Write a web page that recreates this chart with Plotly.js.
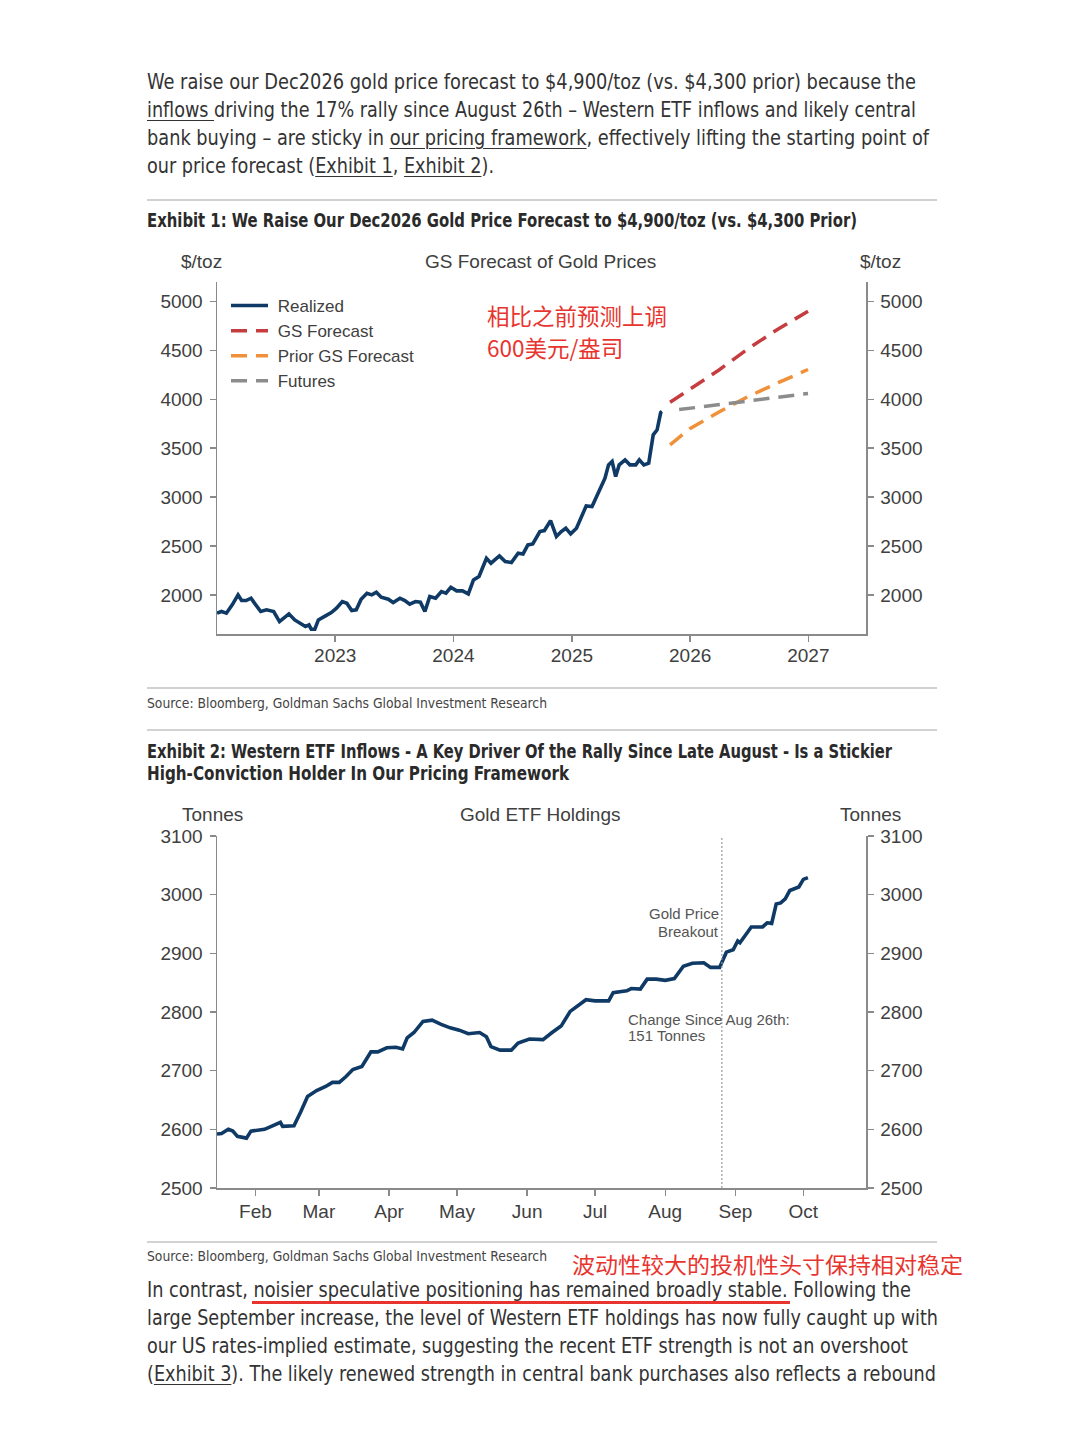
<!DOCTYPE html>
<html>
<head>
<meta charset="utf-8">
<script src="https://cdn.plot.ly/plotly-3.0.1.min.js"></script>
<style>
  html, body { margin:0; padding:0; background:#fff; }
  #page { position:relative; width:1080px; height:1443px; overflow:hidden; background:#fff; }
  .t { position:absolute; left:147px; white-space:nowrap; font-family:"Liberation Sans Narrow","DejaVu Sans Condensed","Roboto","Liberation Sans",sans-serif; color:#333; transform-origin:0 50%; }
  .body { font-size:21px; line-height:28px; height:28px; }
  .head { font-size:19px; line-height:24px; height:24px; font-weight:bold; color:#2a2a2a; }
  .src { font-size:14px; line-height:18px; height:18px; color:#444; }
  .u { text-decoration:underline; text-underline-offset:3px; text-decoration-thickness:1px; }
  .rule { position:absolute; left:147px; width:790px; height:2px; background:#d2d2d2; }
  .cn { position:absolute; white-space:nowrap; font-family:"Noto Sans CJK SC",sans-serif; color:#e8342e; font-size:22px; line-height:28px; transform-origin:0 50%; }
  .plot { position:absolute; left:0; width:1080px; }
</style>
</head>
<body>
<div id="page">
  <div class="t body" data-w="769" style="top:68px">We raise our Dec2026 gold price forecast to $4,900/toz (vs. $4,300 prior) because the</div>
  <div class="t body" data-w="769" style="top:96px"><span class="u">inflows </span>driving the 17% rally since August 26th – Western ETF inflows and likely central</div>
  <div class="t body" data-w="782" style="top:124px">bank buying – are sticky in <span class="u">our pricing framework</span>, effectively lifting the starting point of</div>
  <div class="t body" data-w="347" style="top:152px">our price forecast (<span class="u">Exhibit 1</span>, <span class="u">Exhibit 2</span>).</div>
  <div class="rule" style="top:199px"></div>
  <div class="t head" data-w="710" style="top:208px">Exhibit 1: We Raise Our Dec2026 Gold Price Forecast to $4,900/toz (vs. $4,300 Prior)</div>

  <div id="chart1" class="plot" style="top:240px;height:440px"></div>

  <div class="rule" style="top:687px"></div>
  <div class="t src" data-w="400" style="top:694px">Source: Bloomberg, Goldman Sachs Global Investment Research</div>
  <div class="rule" style="top:729px"></div>
  <div class="t head" data-w="745" style="top:739px">Exhibit 2: Western ETF Inflows - A Key Driver Of the Rally Since Late August - Is a Stickier</div>
  <div class="t head" data-w="422" style="top:761px">High-Conviction Holder In Our Pricing Framework</div>

  <div id="chart2" class="plot" style="top:790px;height:450px"></div>

  <div class="rule" style="top:1241px"></div>
  <div class="t src" data-w="400" style="top:1247px">Source: Bloomberg, Goldman Sachs Global Investment Research</div>
  <div class="cn" data-w="391" style="left:572px;top:1249px">波动性较大的投机性头寸保持相对稳定</div>
  <div class="t body" data-w="764" style="top:1276px">In contrast, noisier speculative positioning has remained broadly stable. Following the</div>
  <div style="position:absolute;left:252px;top:1301px;width:538px;height:3px;background:#e8342e"></div>
  <div class="t body" data-w="791" style="top:1304px">large September increase, the level of Western ETF holdings has now fully caught up with</div>
  <div class="t body" data-w="761" style="top:1332px">our US rates-implied estimate, suggesting the recent ETF strength is not an overshoot</div>
  <div class="t body" data-w="789" style="top:1360px">(<span class="u">Exhibit 3</span>). The likely renewed strength in central bank purchases also reflects a rebound</div>
</div>

<script>
// ---------------- DATA ----------------
// Exhibit 1: realized gold price ($/toz)
const realizedDates = ['2022-01-01','2022-01-15','2022-01-30','2022-02-17','2022-03-07','2022-03-18','2022-04-01','2022-04-16','2022-04-27','2022-05-16','2022-06-03','2022-06-25','2022-07-13','2022-08-11','2022-08-29','2022-10-01','2022-10-12','2022-10-19','2022-10-30','2022-11-10','2022-12-02','2022-12-20',
  '2023-01-05','2023-01-23','2023-02-06','2023-02-21','2023-03-07','2023-03-22','2023-04-09','2023-04-24','2023-05-08','2023-05-23','2023-06-14','2023-06-29','2023-07-20','2023-08-04','2023-08-19','2023-09-06','2023-09-21','2023-10-05','2023-10-20','2023-11-07','2023-11-25','2023-12-09','2023-12-24',
  '2024-01-11','2024-01-29','2024-02-16','2024-03-03','2024-03-20','2024-04-12','2024-04-26','2024-05-22','2024-06-09','2024-06-28','2024-07-19','2024-08-03','2024-08-18','2024-09-02','2024-09-24','2024-10-08','2024-10-27','2024-11-14','2024-11-29','2024-12-13','2024-12-28',
  '2025-01-15','2025-01-30','2025-02-14','2025-03-04','2025-03-18','2025-04-02','2025-04-13','2025-04-24','2025-05-05','2025-05-16','2025-05-27','2025-06-14','2025-06-29','2025-07-17','2025-07-28','2025-08-11','2025-08-26','2025-09-09','2025-09-21','2025-10-02','2025-10-06'];
const realizedValues = [1813,1830,1813,1898,2000,1942,1942,1966,1915,1830,1847,1830,1727,1806,1744,1676,1693,1649,1649,1744,1785,1819,
  1864,1932,1915,1840,1847,1956,2017,2000,2027,1976,1956,1922,1966,1942,1905,1932,1925,1830,1983,1966,2034,2017,2078,
  2041,2041,2010,2153,2188,2375,2324,2399,2341,2331,2426,2419,2511,2521,2648,2658,2760,2597,2648,2682,2624,
  2682,2801,2910,2903,3006,3101,3193,3330,3364,3210,3330,3381,3330,3330,3381,3330,3347,3637,3688,3865,3875];
const gsForecastDates = ['2025-10-31','2026-03-31','2026-06-30','2026-09-30','2026-12-31'];
const gsForecastValues = [3970,4300,4520,4720,4900];
const priorForecastDates = ['2025-10-31','2025-12-31','2026-03-31','2026-06-30','2026-09-30','2026-12-31'];
const priorForecastValues = [3535,3700,3870,4030,4170,4305];
const futuresDates = ['2025-11-28','2026-12-31'];
const futuresValues = [3895,4060];
const chart1YearTickVals = ['2023-01-01','2024-01-01','2025-01-01','2026-01-01','2027-01-01'];
const chart1YearTickText = ['2023','2024','2025','2026','2027'];
const seriesNames = ['Realized','GS Forecast','Prior GS Forecast','Futures'];

// Exhibit 2: gold ETF holdings (tonnes), 2025
const etfDates = ['2025-01-15','2025-01-17','2025-01-20','2025-01-22','2025-01-24','2025-01-28','2025-01-30','2025-02-01','2025-02-05','2025-02-08','2025-02-12','2025-02-13','2025-02-18','2025-02-21','2025-02-24','2025-02-28',
  '2025-03-04','2025-03-07','2025-03-10','2025-03-13','2025-03-16','2025-03-20','2025-03-24','2025-03-27','2025-03-31','2025-04-04','2025-04-07','2025-04-09','2025-04-12','2025-04-16','2025-04-20','2025-04-24','2025-04-28',
  '2025-05-02','2025-05-06','2025-05-11','2025-05-14','2025-05-16','2025-05-20','2025-05-25','2025-05-28','2025-06-02','2025-06-08','2025-06-12','2025-06-16','2025-06-20','2025-06-23','2025-06-27',
  '2025-07-01','2025-07-07','2025-07-09','2025-07-15','2025-07-17','2025-07-21','2025-07-24','2025-07-28','2025-08-01','2025-08-05','2025-08-09','2025-08-13','2025-08-18','2025-08-21','2025-08-25','2025-08-28','2025-08-31',
  '2025-09-02','2025-09-03','2025-09-08','2025-09-13','2025-09-15','2025-09-17','2025-09-19','2025-09-21','2025-09-23','2025-09-25','2025-09-29','2025-10-01','2025-10-03'];
const etfValues = [2592,2593,2600,2597,2588,2585,2597,2598,2600,2605,2612,2605,2606,2630,2656,2666,
  2673,2680,2680,2690,2702,2707,2732,2732,2739,2740,2737,2756,2765,2784,2786,2779,2773,
  2769,2763,2765,2758,2741,2735,2735,2747,2754,2753,2765,2776,2801,2810,2821,
  2819,2819,2833,2836,2840,2839,2856,2856,2854,2857,2878,2883,2884,2876,2876,2902,2906,
  2921,2918,2945,2945,2952,2951,2984,2986,2993,3007,3013,3026,3029];
const breakoutDate = '2025-08-26';
const monthTickVals = ['2025-02-01','2025-03-01','2025-04-01','2025-05-01','2025-06-01','2025-07-01','2025-08-01','2025-09-01','2025-10-01'];
const monthTickText = ['Feb','Mar','Apr','May','Jun','Jul','Aug','Sep','Oct'];

// ---------------- STYLE ----------------
const FONT = 'Liberation Sans, Arial, sans-serif';
const AX = '#8a8a8a';
const TXT = '#404040';
const NAVY = '#0f3a66';
const NB = '\u00a0';

// fit text lines to the widths seen in the reference
document.querySelectorAll('[data-w]').forEach(el => {
  const w = el.getBoundingClientRect().width;
  const target = parseFloat(el.dataset.w);
  if (w > 0) el.style.transform = 'scaleX(' + (target / w) + ')';
});

function axisStyle(extra) {
  return Object.assign({
    showline:true, linecolor:AX, linewidth:1.5, ticks:'outside', ticklen:6, tickwidth:1.5, tickcolor:AX,
    showgrid:false, zeroline:false, tickfont:{family:FONT, size:19, color:TXT}, fixedrange:true
  }, extra);
}

// ---------------- CHART 1 ----------------
(function(){
  const top = 240, H = 440, L = 217, R = 866, T = 282, B = 634;
  const px = x => (x - L) / (R - L), py = y => (B - y) / (B - T);
  const ann = (x, y, text, o) => Object.assign({xref:'paper', yref:'paper', x:px(x), y:py(y), text:text, showarrow:false,
      xanchor:'center', yanchor:'middle', font:{family:FONT, size:18, color:TXT}}, o || {});
  const traces = [
    {x:realizedDates, y:realizedValues, name:NB + seriesNames[0], mode:'lines', line:{color:NAVY, width:3.6}, legendgroup:'a'},
    {x:gsForecastDates, y:gsForecastValues, name:NB + seriesNames[1], mode:'lines', line:{color:'#c63d3f', width:3.5, dash:'16px,9px'}, legendgroup:'b'},
    {x:priorForecastDates, y:priorForecastValues, name:NB + seriesNames[2], mode:'lines', line:{color:'#f0913a', width:3.5, dash:'16px,9px'}, legendgroup:'c'},
    {x:futuresDates, y:futuresValues, name:NB + seriesNames[3], mode:'lines', line:{color:'#8c8c8c', width:3.5, dash:'16px,9px'}, legendgroup:'d', yaxis:'y2'}
  ];
  const layout = {
    width:1080, height:H, margin:{l:L, r:1080-R, t:T-top, b:top+H-B, pad:0},
    paper_bgcolor:'rgba(0,0,0,0)', plot_bgcolor:'rgba(0,0,0,0)',
    showlegend:true,
    legend:{x:px(226), y:py(288), xanchor:'left', yanchor:'top', bgcolor:'rgba(0,0,0,0)', font:{family:FONT, size:17, color:TXT},
      tracegroupgap:0, itemwidth:37},
    xaxis:axisStyle({type:'date', range:['2022-01-01','2027-06-28'], tickvals:chart1YearTickVals, ticktext:chart1YearTickText, ticklabelstandoff:-2}),
    yaxis:axisStyle({range:[1600,5200], dtick:500, tick0:2000, ticklabelstandoff:3}),
    yaxis2:axisStyle({range:[1600,5200], dtick:500, tick0:2000, overlaying:'y', side:'right', anchor:'x', ticklabelstandoff:3}),
    annotations:[
      ann(540, 261, 'GS Forecast of Gold Prices', {font:{family:FONT, size:19, color:TXT}}),
      ann(201, 262, '$/toz', {font:{family:FONT, size:19, color:TXT}}),
      ann(880, 262, '$/toz', {font:{family:FONT, size:19, color:TXT}}),
      ann(485, 315, '相比之前预测上调', {xanchor:'left', font:{family:'Noto Sans CJK SC, sans-serif', size:22.5, color:'#e8342e'}}),
      ann(485, 347, '600美元/盎司', {xanchor:'left', font:{family:'Noto Sans CJK SC, sans-serif', size:22.5, color:'#e8342e'}})
    ]
  };
  Plotly.newPlot('chart1', traces, layout, {displayModeBar:false, staticPlot:true});
})();

// ---------------- CHART 2 ----------------
(function(){
  const top = 790, H = 450, L = 217, R = 866, T = 836, B = 1188;
  const px = x => (x - L) / (R - L), py = y => (B - y) / (B - T);
  const ann = (x, y, text, o) => Object.assign({xref:'paper', yref:'paper', x:px(x), y:py(y), text:text, showarrow:false,
      xanchor:'center', yanchor:'middle', font:{family:FONT, size:19, color:TXT}}, o || {});
  const note = {family:FONT, size:15, color:'#555'};
  const traces = [
    {x:etfDates, y:etfValues, name:'Gold ETF Holdings', mode:'lines', line:{color:NAVY, width:3.6}, showlegend:false},
    // same series registered on the right-hand axis so that axis is drawn (invisible)
    {x:etfDates, y:etfValues, name:'Gold ETF Holdings (right axis)', mode:'lines', line:{color:'rgba(0,0,0,0)', width:0.1}, showlegend:false, yaxis:'y2'}
  ];
  const layout = {
    width:1080, height:H, margin:{l:L, r:1080-R, t:T-top, b:top+H-B, pad:0},
    paper_bgcolor:'rgba(0,0,0,0)', plot_bgcolor:'rgba(0,0,0,0)',
    showlegend:false,
    xaxis:axisStyle({type:'date', range:['2025-01-15','2025-10-28 16:00'], tickvals:monthTickVals, ticktext:monthTickText, ticklabelstandoff:0}),
    yaxis:axisStyle({range:[2500,3100], dtick:100, tick0:2500, ticklabelstandoff:3}),
    yaxis2:axisStyle({range:[2500,3100], dtick:100, tick0:2500, overlaying:'y', side:'right', anchor:'x', ticklabelstandoff:3}),
    shapes:[
      {type:'line', xref:'x', yref:'paper', x0:breakoutDate, x1:breakoutDate, y0:0, y1:1, line:{color:'#9a9a9a', width:1.2, dash:'2px,2px'}}
    ],
    annotations:[
      ann(540, 814, 'Gold ETF Holdings'),
      ann(212, 814, 'Tonnes'),
      ann(870, 814, 'Tonnes'),
      ann(721, 914, 'Gold Price', {xanchor:'right', font:note}),
      ann(721, 931, 'Breakout', {xanchor:'right', font:note}),
      ann(626, 1019, 'Change Since Aug 26th:', {xanchor:'left', font:note}),
      ann(626, 1036, '151 Tonnes', {xanchor:'left', font:note})
    ]
  };
  Plotly.newPlot('chart2', traces, layout, {displayModeBar:false, staticPlot:true});
})();
</script>
</body>
</html>
